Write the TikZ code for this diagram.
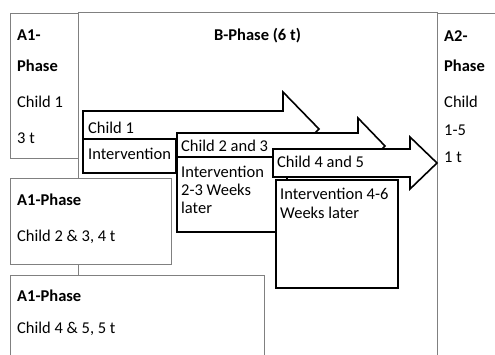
\documentclass[tikz,border=0pt]{standalone}
\usepackage{fontspec}
\setmainfont{Carlito}
\usepackage{xcolor}
\colorlet{PhaseGray}{black!50}
\tikzstyle{phaseBox}=[draw=PhaseGray, line width=0.9pt]
\tikzstyle{phaseFill}=[phaseBox, fill=white]
\tikzstyle{blockArrow}=[draw, fill=white, line width=1.6pt, line join=miter]
\tikzstyle{interBox}=[draw, fill=white, line width=1.6pt]
\tikzstyle{txt}=[anchor=base west, inner sep=0pt, font=\fontsize{16.5}{19}\selectfont]
\tikzstyle{txtBold}=[anchor=base west, inner sep=0pt, font=\fontsize{16.5}{19}\selectfont\bfseries]

\begin{document}
\begin{tikzpicture}[x=1pt, y=-1pt]
    \clip (0,0) rectangle (495,354);
    \fill[white] (0,0) rectangle (495,354);

    % Phase frames
    \draw[phaseBox] (78,12) rectangle (437,370);
    \draw[phaseBox] (437,13) rectangle (510,370);
    \node[txtBold, anchor=base] (bTitle) at (257.5,40) {B-Phase (6 t)};
    \node[txtBold] (aTwoA) at (444,41) {A2-};
    \node[txtBold] (aTwoB) at (444,71) {Phase};
    \node[txt] (aTwoC) at (444,107) {Child};
    \node[txt] (aTwoD) at (444,135) {1-5};
    \node[txt] (aTwoE) at (444,162) {1 t};

    \draw[phaseFill] (10,13) rectangle (78,158);
    \node[txtBold] (aOneA) at (17,40) {A1-};
    \node[txtBold] (aOneB) at (17,71) {Phase};
    \node[txt] (aOneC) at (17,107) {Child 1};
    \node[txt] (aOneD) at (17,143) {3 t};

    \draw[phaseFill] (10,178) rectangle (171,264);
    \node[txtBold] (aOneE) at (17,205) {A1-Phase};
    \node[txt] (aOneF) at (17,241) {Child 2 \& 3, 4 t};

    \draw[phaseFill] (10,275) rectangle (264,370);
    \node[txtBold] (aOneG) at (17,301) {A1-Phase};
    \node[txt] (aOneH) at (17,333) {Child 4 \& 5, 5 t};

    % Child 1
    \draw[blockArrow] (83,111) -- (283,111) -- (283,92) -- (319,129) -- (283,166) -- (283,147) -- (83,147) -- cycle;
    \node[txt] (childOne) at (88,133) {Child 1};
    \draw[interBox] (83,139) rectangle (176,173);
    \node[txt] (interOne) at (88,159) {Intervention};

    % Child 2 and 3
    \draw[blockArrow] (177,133) -- (358,133) -- (358,118) -- (385,146) -- (358,174) -- (358,159) -- (177,159) -- cycle;
    \node[txt] (childTwo) at (181,151) {Child 2 and 3};
    \draw[interBox] (177,157) rectangle (287,232);
    \node[txt] (interTwoA) at (181,177) {Intervention};
    \node[txt] (interTwoB) at (181,195) {2-3 Weeks};
    \node[txt] (interTwoC) at (181,213) {later};

    % Child 4 and 5
    \draw[blockArrow] (273,149) -- (410,149) -- (410,137) -- (437,163) -- (410,189) -- (410,177) -- (273,177) -- cycle;
    \node[txt] (childFour) at (277,167) {Child 4 and 5};
    \draw[interBox] (276,180) rectangle (398,288);
    \node[txt] (interFourA) at (280,199) {Intervention 4-6};
    \node[txt] (interFourB) at (280,218) {Weeks later};

\end{tikzpicture}
\end{document}
